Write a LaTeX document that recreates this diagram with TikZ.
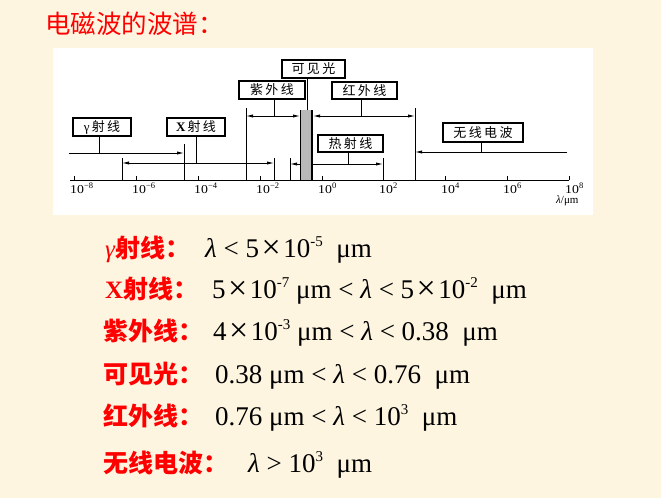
\documentclass[tikz,border=0pt]{standalone}
\usepackage{fontspec}
\usepackage{graphicx}
\setmainfont{Liberation Serif}
\newfontfamily\cjk{Noto Sans CJK SC}
\newfontfamily\cjksp[LetterSpace=18]{Noto Sans CJK SC}
\usetikzlibrary{arrows.meta}
\definecolor{bg}{HTML}{FEF5E1}
\definecolor{tred}{HTML}{FF0000}
\newcommand{\fs}[1]{\fontsize{#1}{#1}\selectfont}
\newcommand{\sups}[1]{\raisebox{0.4em}{\fs{15}#1}}
\newcommand{\tms}{\hspace{2.5pt}\raisebox{-1pt}{\fs{34}×}\hspace{2.5pt}}
\newcommand{\lam}{\textit{λ}}
\begin{document}
\begin{tikzpicture}[x=1pt,y=-1pt,
  ln/.style={line width=0.8pt},
  arr/.style={ln,-{Latex[length=7pt,width=3.2pt]}},
  darr/.style={ln,{Latex[length=7pt,width=3.2pt]}-{Latex[length=7pt,width=3.2pt]}},
  lbl/.style={draw,line width=1.6pt,fill=white,inner sep=0pt,minimum height=18pt,font=\cjksp\fs{13}},
  tick/.style={anchor=base west,inner sep=0pt,font=\fs{12}},
  redlbl/.style={anchor=base west,inner sep=0pt,text=tred,font=\cjk\bfseries\fs{25}},
  mtext/.style={anchor=base west,inner sep=0pt,font=\fs{27}}]
\path[fill=bg] (0,0) rectangle (661,498);
\path[fill=white] (53,48) rectangle (593,215);
\node[anchor=base west,inner sep=0pt,text=tred,font=\cjk\fs{25.5}] (title) at (45,33) {电磁波的波谱：};
% axis
\coordinate (a0) at (70,180);
\coordinate (a1) at (569,180);
\draw[ln] (a0) -- (a1);
\foreach \e/\x [count=\i] in {−8/74,−6/136,−4/198,−2/260,0/322,2/383,4/445,6/507,8/569}{
  \coordinate (tk\i) at (\x,180);
  \draw[ln] (tk\i) -- ++(0,-4);
  \node[tick] (tl\i) at (\x-4,193) {\scalebox{1.15}[1]{10}\raisebox{5pt}{\fs{8.5}\e}};
}
\node[anchor=base west,inner sep=0pt,font=\fs{11}] (unit) at (556,203) {\lam/μm};
% boxes
\node[lbl,minimum width=58pt] (gbox) at (102,127) {\rmfamily γ\,\cjksp 射线};
\node[lbl,minimum width=58pt] (xbox) at (196,127) {\rmfamily\bfseries X\,\cjksp\mdseries 射线};
\node[lbl,minimum width=66pt] (uvbox) at (272,90) {紫外线};
\node[lbl,minimum width=63pt] (visbox) at (313.5,69) {可见光};
\node[lbl,minimum width=65pt,minimum height=17pt] (irbox) at (364.5,90.5) {红外线};
\node[lbl,minimum width=65pt,minimum height=17pt] (heatbox) at (350.5,143.5) {热射线};
\node[lbl,minimum width=80pt,minimum height=19pt] (radbox) at (483,132.5) {无线电波};
% gamma
\coordinate (g0) at (69,153);
\coordinate (g1) at (184,153);
\coordinate (gs) at (99,153);
\draw[arr] (g0) -- (g1);
\draw[ln] (184,144) -- (184,180);
\draw[ln] (gbox.south -| gs) -- (gs);
% X
\coordinate (x0) at (122,163);
\coordinate (x1) at (274,163);
\coordinate (xs) at (196,163);
\draw[ln] (122,158) -- (122,180);
\draw[ln] (274,158) -- (274,180);
\draw[darr] (x0) -- (x1);
\draw[ln] (xbox.south -| xs) -- (xs);
% heat
\coordinate (h0) at (290,164);
\coordinate (h1) at (383,164);
\coordinate (hs) at (348,164);
\draw[ln] (290,158) -- (290,180);
\draw[ln] (383,158) -- (383,180);
\draw[darr] (h0) -- (h1);
\draw[ln] (heatbox.south -| hs) -- (hs);
% UV
\coordinate (u0) at (246,116);
\coordinate (u1) at (300,116);
\coordinate (us) at (274,116);
\draw[ln] (246,108) -- (246,180);
\draw[darr] (u0) -- (u1);
\draw[ln] (uvbox.south -| us) -- (us);
% visible strip
\fill[gray!55] (300,110) rectangle (312,180);
\draw[ln] (300,110) -- (300,180);
\draw[line width=1.6pt] (312,110) -- (312,180);
\coordinate (vs) at (307,110);
\draw[ln] (visbox.south -| vs) -- (vs);
% IR
\coordinate (i0) at (313,116);
\coordinate (i1) at (415,116);
\coordinate (is) at (361,116);
\draw[ln] (415,108) -- (415,180);
\draw[darr] (i0) -- (i1);
\draw[ln] (irbox.south -| is) -- (is);
% radio
\coordinate (r0) at (567,152);
\coordinate (r1) at (415,152);
\coordinate (rs) at (481,152);
\draw[arr] (r0) -- (r1);
\draw[ln] (radbox.south -| rs) -- (rs);
% lower text
\node[redlbl] (l1) at (105,257) {{\rmfamily\itshape\mdseries γ}射线：};
\node[mtext] (m1) at (205,257) {\lam{} < 5\tms 10\sups{-5}\ \ μm};
\node[redlbl] (l2) at (105,298) {{\rmfamily X}射线：};
\node[mtext] (m2) at (212,298) {5\tms 10\sups{-7} μm < \lam{} < 5\tms 10\sups{-2}\ \ μm};
\node[redlbl] (l3) at (103,340) {紫外线：};
\node[mtext] (m3) at (213,340) {4\tms 10\sups{-3} μm < \lam{} < 0.38\ \ μm};
\node[redlbl] (l4) at (103,383) {可见光：};
\node[mtext] (m4) at (215,383) {0.38 μm < \lam{} < 0.76\ \ μm};
\node[redlbl] (l5) at (103,425) {红外线：};
\node[mtext] (m5) at (215,425) {0.76 μm < \lam{} < 10\sups{3}\ \ μm};
\node[redlbl] (l6) at (103,472) {无线电波：};
\node[mtext] (m6) at (248,472) {\lam{} > 10\sups{3}\ \ μm};
\end{tikzpicture}
\end{document}
